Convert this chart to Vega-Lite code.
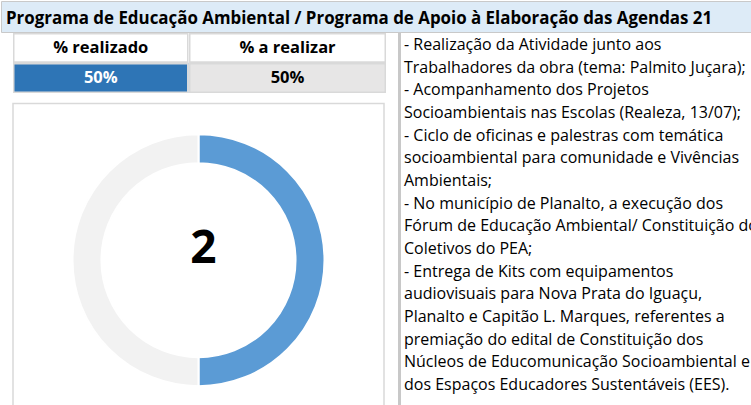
{
  "$schema": "https://vega.github.io/schema/vega-lite/v6.json",
  "padding": 0,
  "background": "white",
  "spacing": 0,
  "config": {
    "view": {"stroke": null},
    "font": "Open Sans",
    "text": {"font": "Open Sans"},
    "concat": {"spacing": 0}
  },
  "datasets": {
    "kpi": [
      {"status": "% realizado", "valor": 0.5},
      {"status": "% a realizar", "valor": 0.5}
    ],
    "atividades": [
      {"linha": 1, "texto": "- Realização da Atividade junto aos"},
      {"linha": 2, "texto": "Trabalhadores da obra (tema: Palmito Juçara);"},
      {"linha": 3, "texto": "- Acompanhamento dos Projetos"},
      {"linha": 4, "texto": "Socioambientais nas Escolas (Realeza, 13/07);"},
      {"linha": 5, "texto": "- Ciclo de oficinas e palestras com temática"},
      {"linha": 6, "texto": "socioambiental para comunidade e Vivências"},
      {"linha": 7, "texto": "Ambientais;"},
      {"linha": 8, "texto": "- No município de Planalto, a execução dos"},
      {"linha": 9, "texto": "Fórum de Educação Ambiental/ Constituição dos"},
      {"linha": 10, "texto": "Coletivos do PEA;"},
      {"linha": 11, "texto": "- Entrega de Kits com equipamentos"},
      {"linha": 12, "texto": "audiovisuais para Nova Prata do Iguaçu,"},
      {"linha": 13, "texto": "Planalto e Capitão L. Marques, referentes a"},
      {"linha": 14, "texto": "premiação do edital de Constituição dos"},
      {"linha": 15, "texto": "Núcleos de Educomunicação Socioambiental e"},
      {"linha": 16, "texto": "dos Espaços Educadores Sustentáveis (EES)."}
    ]
  },
  "vconcat": [
    {
      "width": 751,
      "height": 31,
      "view": {"fill": "#DDEBF7", "stroke": "#C9C9C9", "strokeWidth": 1},
      "data": {"values": [{"titulo": "Programa de Educação Ambiental / Programa de Apoio à Elaboração das Agendas 21"}]},
      "mark": {"type": "text", "align": "left", "baseline": "middle", "dx": 5, "dy": 2.5, "fontSize": 16.9, "fontWeight": "bold", "color": "black"},
      "encoding": {
        "x": {"datum": 0, "type": "quantitative", "scale": {"domain": [0, 1]}, "axis": null},
        "text": {"field": "titulo"}
      }
    },
    {
      "spacing": 0,
      "hconcat": [
        {"width": 11, "height": 373.5, "data": {"values": []}, "mark": "point"},
        {
          "spacing": 9.5,
          "vconcat": [
            {
              "spacing": 0,
              "hconcat": [
                {
                  "width": 175.5,
                  "height": 60,
                  "data": {"name": "kpi"},
                  "transform": [{"filter": "datum.status === '% realizado'"}],
                  "layer": [
                    {"mark": {"type": "rect", "fill": "white", "stroke": "#D9D9D9", "strokeWidth": 3, "clip": true},
                     "encoding": {"y": {"datum": "cabeçalho", "type": "nominal", "scale": {"domain": ["cabeçalho", "valor"], "paddingInner": 0, "paddingOuter": 0}, "axis": null}}},
                    {"mark": {"type": "text", "fontSize": 16.5, "fontWeight": "bold", "color": "black"},
                     "encoding": {"y": {"datum": "cabeçalho", "type": "nominal"}, "text": {"field": "status"}}},
                    {"mark": {"type": "rect", "stroke": "#D9D9D9", "strokeWidth": 3, "clip": true},
                     "encoding": {"y": {"datum": "valor", "type": "nominal"},
                       "fill": {"field": "status", "type": "nominal", "scale": {"domain": ["% realizado", "% a realizar"], "range": ["#2E75B6", "#E7E6E6"]}, "legend": null}}},
                    {"mark": {"type": "text", "fontSize": 16.5, "fontWeight": "bold"},
                     "encoding": {"y": {"datum": "valor", "type": "nominal"}, "text": {"field": "valor", "format": ".0%"},
                       "color": {"condition": {"test": "datum.status === '% realizado'", "value": "white"}, "value": "black"}}}
                  ]
                },
                {
                  "width": 197,
                  "height": 60,
                  "data": {"name": "kpi"},
                  "transform": [{"filter": "datum.status === '% a realizar'"}],
                  "layer": [
                    {"mark": {"type": "rect", "fill": "white", "stroke": "#D9D9D9", "strokeWidth": 3, "clip": true},
                     "encoding": {"y": {"datum": "cabeçalho", "type": "nominal", "scale": {"domain": ["cabeçalho", "valor"], "paddingInner": 0, "paddingOuter": 0}, "axis": null}}},
                    {"mark": {"type": "text", "fontSize": 16.5, "fontWeight": "bold", "color": "black"},
                     "encoding": {"y": {"datum": "cabeçalho", "type": "nominal"}, "text": {"field": "status"}}},
                    {"mark": {"type": "rect", "stroke": "#D9D9D9", "strokeWidth": 3, "clip": true},
                     "encoding": {"y": {"datum": "valor", "type": "nominal"},
                       "fill": {"field": "status", "type": "nominal", "scale": {"domain": ["% realizado", "% a realizar"], "range": ["#2E75B6", "#E7E6E6"]}, "legend": null}}},
                    {"mark": {"type": "text", "fontSize": 16.5, "fontWeight": "bold"},
                     "encoding": {"y": {"datum": "valor", "type": "nominal"}, "text": {"field": "valor", "format": ".0%"},
                       "color": {"condition": {"test": "datum.status === '% realizado'", "value": "white"}, "value": "black"}}}
                  ]
                }
              ]
            },
            {
              "width": 371,
              "height": 303.25,
              "view": {"fill": "white", "stroke": "#D9D9D9", "strokeWidth": 1.5},
              "layer": [
                {
                  "data": {"name": "kpi"},
                  "mark": {"type": "arc", "outerRadius": 126, "innerRadius": 97, "stroke": "white", "strokeWidth": 2, "yOffset": 5},
                  "encoding": {
                    "theta": {"field": "valor", "type": "quantitative", "stack": true},
                    "order": {"field": "status", "type": "nominal", "sort": "descending"},
                    "color": {"field": "status", "type": "nominal", "scale": {"domain": ["% realizado", "% a realizar"], "range": ["#5B9BD5", "#F2F2F2"]}, "legend": null}
                  }
                },
                {
                  "data": {"values": [{"concluidas": 2}]},
                  "mark": {"type": "text", "fontSize": 46, "fontWeight": "bold", "color": "black", "dx": 5, "dy": -6, "baseline": "middle"},
                  "encoding": {"text": {"field": "concluidas"}}
                }
              ]
            }
          ]
        },
        {"width": 12, "height": 373.5, "data": {"values": []}, "mark": "point"},
        {
          "width": 354,
          "height": 373.5,
          "layer": [
            {
              "data": {"values": [{}]},
              "mark": {"type": "rule", "color": "#C8C8C8", "strokeWidth": 6, "clip": true},
              "encoding": {"x": {"datum": 0, "type": "quantitative", "scale": {"domain": [0, 1]}, "axis": null}}
            },
            {
              "data": {"name": "atividades"},
              "mark": {"type": "text", "align": "left", "baseline": "middle", "dx": 6, "fontSize": 16, "color": "black", "clip": true},
              "encoding": {
                "x": {"datum": 0, "type": "quantitative"},
                "y": {"field": "linha", "type": "ordinal", "axis": null, "scale": {"type": "point", "padding": 0.74, "align": 0.36}},
                "text": {"field": "texto"}
              }
            }
          ]
        }
      ]
    }
  ]
}
